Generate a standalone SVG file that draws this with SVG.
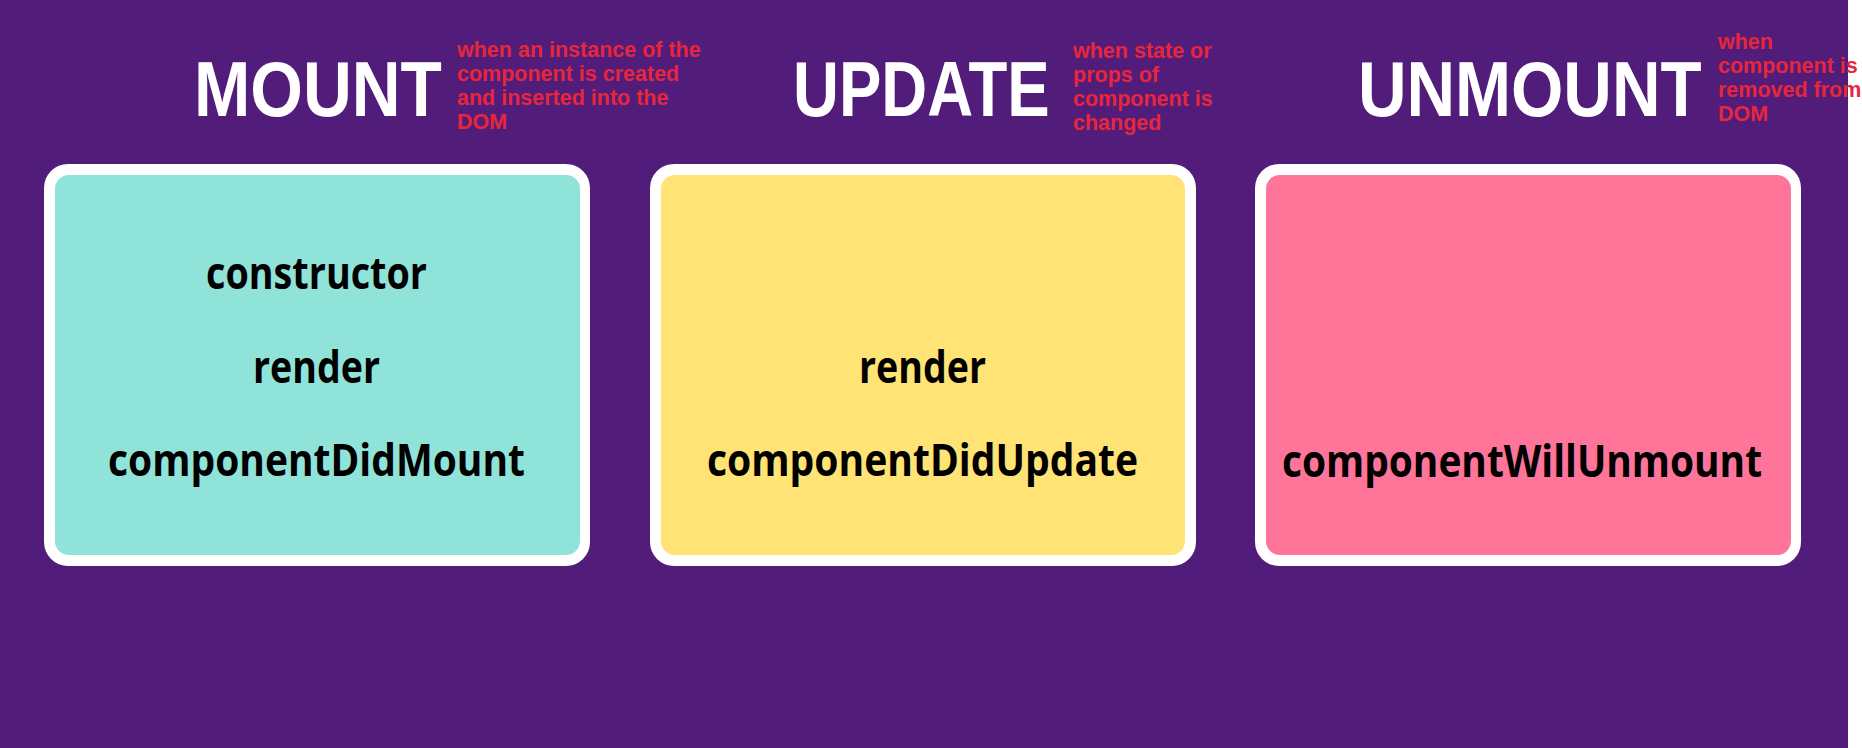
<svg xmlns="http://www.w3.org/2000/svg" width="1862" height="748" viewBox="0 0 1862 748">
  <style>
    .frame { fill: #ffffff; }
    .title { font-family: "Liberation Sans", Arial, sans-serif; font-weight: 700; font-size: 78px; fill: #ffffff; }
    .note { font-family: "Liberation Sans", Arial, sans-serif; font-weight: 700; font-size: 21.5px; fill: #E6263A; }
    .method { font-family: "Open Sans", "Noto Sans", sans-serif; font-weight: 700; font-size: 44px; fill: #000000; }
  </style>
  <rect x="0" y="0" width="1862" height="748" fill="#ffffff"/>
  <rect id="background" x="0" y="0" width="1848" height="748" fill="#521C7B"/>

  <g id="connectors"/>

  <g id="mount">
    <text class="title" transform="translate(194 116) scale(0.867 1)">MOUNT</text>
    <text class="note" x="457">
      <tspan x="457" y="57">when an instance of the</tspan>
      <tspan x="457" y="81">component is created</tspan>
      <tspan x="457" y="105">and inserted into the</tspan>
      <tspan x="457" y="129">DOM</tspan>
    </text>
    <rect class="frame" x="44" y="164" width="546" height="402" rx="24"/>
    <rect x="55" y="175" width="525" height="380" rx="14" fill="#8FE3D8"/>
    <text class="method" x="206" y="289" textLength="221" lengthAdjust="spacingAndGlyphs">constructor</text>
    <text class="method" x="253" y="383" textLength="127" lengthAdjust="spacingAndGlyphs">render</text>
    <text class="method" x="108" y="476" textLength="417" lengthAdjust="spacingAndGlyphs">componentDidMount</text>
  </g>

  <g id="update">
    <text class="title" transform="translate(793 116) scale(0.815 1)">UPDATE</text>
    <text class="note" x="1073">
      <tspan x="1073" y="58">when state or</tspan>
      <tspan x="1073" y="82">props of</tspan>
      <tspan x="1073" y="106">component is</tspan>
      <tspan x="1073" y="130">changed</tspan>
    </text>
    <rect class="frame" x="650" y="164" width="546" height="402" rx="24"/>
    <rect x="661" y="175" width="524" height="380" rx="14" fill="#FFE375"/>
    <text class="method" x="859" y="383" textLength="127" lengthAdjust="spacingAndGlyphs">render</text>
    <text class="method" x="707" y="476" textLength="431" lengthAdjust="spacingAndGlyphs">componentDidUpdate</text>
  </g>

  <g id="unmount">
    <text class="title" transform="translate(1358 116) scale(0.862 1)">UNMOUNT</text>
    <rect class="frame" x="1255" y="164" width="546" height="402" rx="24"/>
    <rect x="1266" y="175" width="525" height="380" rx="14" fill="#FF7499"/>
    <text class="method" x="1282" y="477" textLength="480" lengthAdjust="spacingAndGlyphs">componentWillUnmount</text>
    <text class="note" x="1718">
      <tspan x="1718" y="49">when</tspan>
      <tspan x="1718" y="73">component is</tspan>
      <tspan x="1718" y="97">removed from</tspan>
      <tspan x="1718" y="121">DOM</tspan>
    </text>
  </g>
</svg>
